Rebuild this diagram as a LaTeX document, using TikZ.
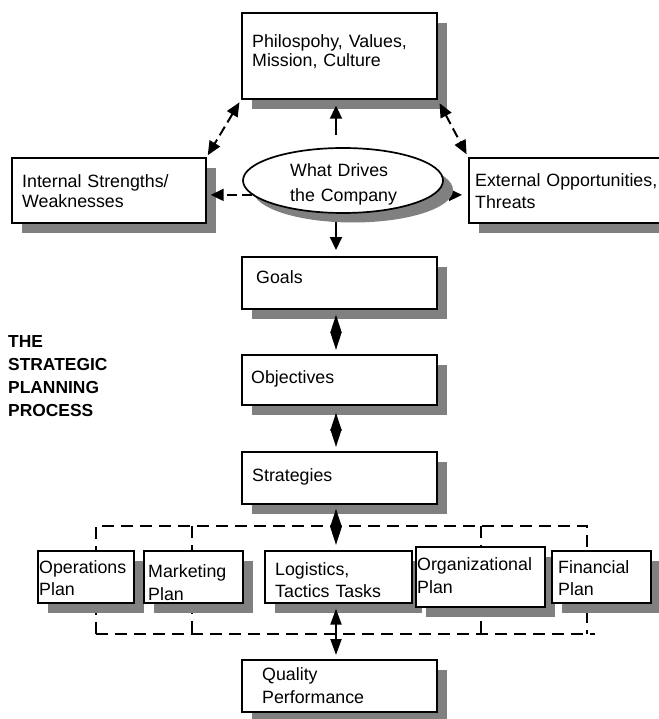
\documentclass[tikz,border=0pt]{standalone}
\usepackage{fontspec}
\setmainfont{Liberation Sans}
\usetikzlibrary{arrows.meta,shadows,shapes.geometric}
\definecolor{shade}{RGB}{128,128,128}
\pgfdeclarelayer{fore}
\pgfsetlayers{main,fore}

\begin{document}
\begin{tikzpicture}[x=1pt,y=-1pt,
  box/.style={draw, line width=1.7pt, fill=white, rectangle, inner sep=0pt, anchor=north west,
    drop shadow={shadow xshift=10.5pt, shadow yshift=-10.5pt, fill=shade, opacity=1}},
  lbl/.style={anchor=base west, inner sep=0pt, text width=240pt, align=left,
    font=\fontsize{17.8}{#1}\selectfont},
  lbl/.default=22,
  ttl/.style={anchor=base west, inner sep=0pt, text width=160pt, align=left,
    font=\fontsize{17.4}{23.3}\selectfont\bfseries},
  conn/.style={line width=2pt},
  onehead/.style={conn, -{Triangle[length=13pt,width=12pt]}},
  twohead/.style={conn, {Triangle[length=14pt,width=12pt]}-{Triangle[length=14pt,width=12pt]}},
  chainhead/.style={conn, {Triangle[length=18pt,width=11pt]}-{Triangle[length=18pt,width=11pt]}},
  link/.style={dash pattern=on 10pt off 5pt},
  bracket/.style={line width=1.6pt, dash pattern=on 12pt off 7pt}
]
\useasboundingbox (0,0) rectangle (658,719);

% dashed frame that groups the functional plans
\coordinate (fTL) at (96,526);  \coordinate (fTR) at (587,526);
\coordinate (fBL) at (96,634);  \coordinate (fBR) at (587,634);
\coordinate (fEnd) at (595,634);
\coordinate (fM) at (192,526);  \coordinate (fO) at (481,526);
\draw[bracket] (fBL) -- (fTL) -- (fTR) -- (fBR);
\draw[bracket] (fBL) -- (fEnd);
\draw[bracket] (fM) -- (fM |- fBL);
\draw[bracket] (fO) -- (fO |- fBL);

% boxes
\node[box, minimum width=195pt, minimum height=86pt] (phil) at (241,12) {};
\node[box, minimum width=194pt, minimum height=65pt] (int) at (11,157) {};
\node[box, minimum width=200pt, minimum height=65pt] (ext) at (468,157) {};
\node[box, minimum width=195pt, minimum height=52pt] (goals) at (241,256) {};
\node[box, minimum width=195pt, minimum height=50pt] (obj) at (241,354) {};
\node[box, minimum width=195pt, minimum height=52pt] (strat) at (241,451) {};
\node[box, minimum width=96pt, minimum height=52pt] (ops) at (37,550) {};
\node[box, minimum width=99pt, minimum height=52pt] (mkt) at (143,550) {};
\node[box, minimum width=147pt, minimum height=52pt] (log) at (264,550) {};
\node[box, minimum width=129pt, minimum height=60pt] (org) at (415,546) {};
\node[box, minimum width=99pt, minimum height=52pt] (fin) at (551,550) {};
\node[box, minimum width=195pt, minimum height=52pt] (qual) at (241,659) {};

% box texts
\node[lbl=19] (philT) at (252,48) {Philospohy, Values,\\Mission, Culture};
\node[lbl=20] (intT) at (22,188) {Internal Strengths/\\Weaknesses};
\node[lbl=21] (extT) at (475,187) {External Opportunities,\\Threats};
\node[lbl] (goalsT) at (256,283) {Goals};
\node[lbl] (objT) at (251,383) {Objectives};
\node[lbl] (stratT) at (252,481) {Strategies};
\node[lbl=22] (opsT) at (39,573) {Operations\\Plan};
\node[lbl=23] (mktT) at (148,577) {Marketing\\Plan};
\node[lbl=22] (logT) at (275,575) {Logistics,\\Tactics Tasks};
\node[lbl=23] (orgT) at (417,570) {Organizational\\Plan};
\node[lbl=22] (finT) at (558,573) {Financial\\Plan};
\node[lbl=23] (qualT) at (262,680) {Quality\\Performance};

% heading
\node[ttl] (title) at (8,347) {THE\\STRATEGIC\\PLANNING\\PROCESS};

% the central ellipse sits above the connectors that leave it
\begin{pgfonlayer}{fore}
\node[draw, line width=1.7pt, fill=white, ellipse, inner sep=0pt,
  minimum width=200pt, minimum height=65pt,
  drop shadow={shadow xshift=10pt, shadow yshift=-9.5pt, fill=shade, opacity=1}]
  (drv) at (343,180.5) {};
\node[lbl=25] (drvT) at (290,177) {What Drives\\the Company};
\end{pgfonlayer}

\coordinate (spine) at (336,0);

% connectors around the ellipse
\draw[onehead, shorten <=12pt, shorten >=6pt] (drv.north -| spine) -- (phil.south -| spine);
\draw[onehead, shorten >=6pt] (drv.south -| spine) -- (goals.north -| spine);
\draw[onehead, link, shorten >=4pt] (drv.189) -- (drv.189 -| int.east);
\draw[onehead, link, shorten >=6pt] (drv.-9) -- (drv.-9 -| ext.west);
\draw[twohead, link, shorten <=3pt, shorten >=2pt] (phil.south west) -- (int.north east);
\draw[twohead, link, shorten <=4pt, shorten >=3pt] (phil.south east) -- (ext.north west);

% the main chain
\draw[chainhead, shorten <=5pt, shorten >=4pt] (goals.south -| spine) -- (obj.north -| spine);
\draw[chainhead, shorten <=7pt, shorten >=4pt] (obj.south -| spine) -- (strat.north -| spine);
\draw[chainhead, shorten <=4pt, shorten >=5pt] (strat.south -| spine) -- (log.north -| spine);
\draw[conn, {Triangle[length=16pt,width=11pt]}-{Triangle[length=16pt,width=11pt]},
  shorten <=5pt, shorten >=4pt] (log.south -| spine) -- (qual.north -| spine);
\end{tikzpicture}
\end{document}
